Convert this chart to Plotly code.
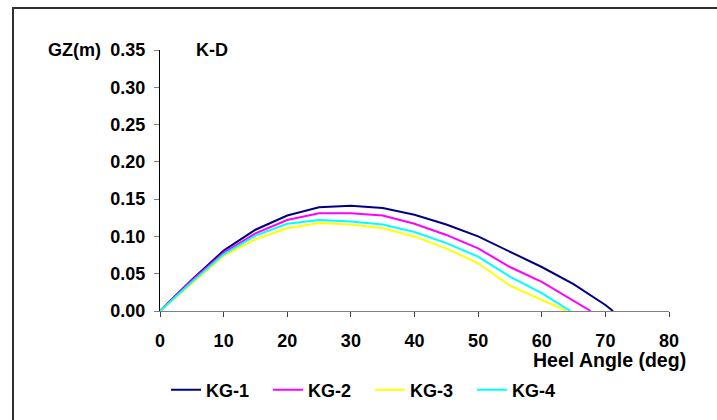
import plotly.graph_objects as go

# ---- data ----
angles_kg1 = [0, 5, 10, 15, 20, 25, 30, 35, 40, 45, 50, 55, 60, 65, 70, 71.2]
gz_kg1 = [0, 0.042, 0.081, 0.109, 0.128, 0.139, 0.141, 0.138, 0.129, 0.116, 0.100, 0.080, 0.059, 0.036, 0.008, 0]

angles_kg2 = [0, 5, 10, 15, 20, 25, 30, 35, 40, 45, 50, 55, 60, 65, 67.7]
gz_kg2 = [0, 0.041, 0.078, 0.104, 0.122, 0.131, 0.131, 0.128, 0.117, 0.102, 0.084, 0.059, 0.039, 0.014, 0]

angles_kg3 = [0, 5, 10, 15, 20, 25, 30, 35, 40, 45, 50, 55, 60, 63.9]
gz_kg3 = [0, 0.037, 0.074, 0.096, 0.111, 0.118, 0.116, 0.111, 0.100, 0.084, 0.064, 0.034, 0.015, 0]

angles_kg4 = [0, 5, 10, 15, 20, 25, 30, 35, 40, 45, 50, 55, 60, 64.5]
gz_kg4 = [0, 0.039, 0.076, 0.101, 0.117, 0.122, 0.120, 0.116, 0.106, 0.091, 0.073, 0.046, 0.024, 0]

series_names = ["KG-1", "KG-2", "KG-3", "KG-4"]
series_colors = ["#000080", "#FF00FF", "#FFFF00", "#00FFFF"]

x_ticks = [0, 10, 20, 30, 40, 50, 60, 70, 80]
y_ticks = [0.00, 0.05, 0.10, 0.15, 0.20, 0.25, 0.30, 0.35]
y_tick_text = ["%.2f" % v for v in y_ticks]

FONT = "Liberation Sans, Arial, sans-serif"
FS = 18

fig = go.Figure()
all_x = [angles_kg1, angles_kg2, angles_kg3, angles_kg4]
all_y = [gz_kg1, gz_kg2, gz_kg3, gz_kg4]
for name, color, xs, ys in zip(series_names, series_colors, all_x, all_y):
    fig.add_trace(go.Scatter(x=xs, y=ys, mode="lines", name=name,
                             line=dict(color=color, width=2)))

W, H = 717, 420
ML, MR, MT, MB = 160, 48, 50, 109
PW, PH = W - ML - MR, H - MT - MB

fig.update_layout(
    width=W, height=H,
    margin=dict(l=ML, r=MR, t=MT, b=MB, pad=0),
    paper_bgcolor="white", plot_bgcolor="white",
    font=dict(family=FONT, size=FS, color="black"),
    showlegend=True,
    legend=dict(orientation="h", x=(166 - ML) / PW, xanchor="left",
                y=-(390 - (H - MB)) / PH, yanchor="middle",
                font=dict(family=FONT, size=FS, color="black", weight="bold"),
                entrywidth=57, entrywidthmode="pixels",
                bgcolor="rgba(0,0,0,0)", itemclick=False),
    xaxis=dict(range=[0, 80], tickvals=x_ticks, showgrid=False, zeroline=False,
               showline=True, linecolor="#808080", linewidth=1,
               ticks="outside", ticklen=5, tickcolor="#404040",
               tickfont=dict(family=FONT, size=FS, color="black", weight="bold"),
               ticklabelstandoff=8, fixedrange=True),
    yaxis=dict(range=[0, 0.35], tickvals=y_ticks, ticktext=y_tick_text,
               showgrid=False, zeroline=False,
               showline=True, linecolor="black", linewidth=1,
               ticks="outside", ticklen=5, tickcolor="#808080",
               tickfont=dict(family=FONT, size=FS, color="black", weight="bold"),
               ticklabelstandoff=5, fixedrange=True),
    annotations=[
        dict(text="<b>GZ(m)</b>", xref="paper", yref="paper",
             x=(74 - ML) / PW, y=1.0, xanchor="center", yanchor="middle",
             showarrow=False, font=dict(family=FONT, size=FS, color="black")),
        dict(text="<b>K-D</b>", xref="paper", yref="paper",
             x=(212 - ML) / PW, y=1.0, xanchor="center", yanchor="middle",
             showarrow=False, font=dict(family=FONT, size=FS, color="black")),
        dict(text="<b>Heel Angle (deg)</b>", xref="paper", yref="paper",
             x=(688 - ML) / PW, y=-(360 - (H - MB)) / PH,
             xanchor="right", yanchor="middle",
             showarrow=False, font=dict(family=FONT, size=19.5, color="black")),
    ],
    shapes=[
        dict(type="rect", xref="paper", yref="paper",
             x0=(13 - ML) / PW, x1=(W + 20 - ML) / PW,
             y0=-(H + 20 - (H - MB)) / PH, y1=1 + (MT - 8) / PH,
             line=dict(color="#303030", width=2), fillcolor="rgba(0,0,0,0)", layer="above"),
    ],
)

fig.write_html("out.html")
